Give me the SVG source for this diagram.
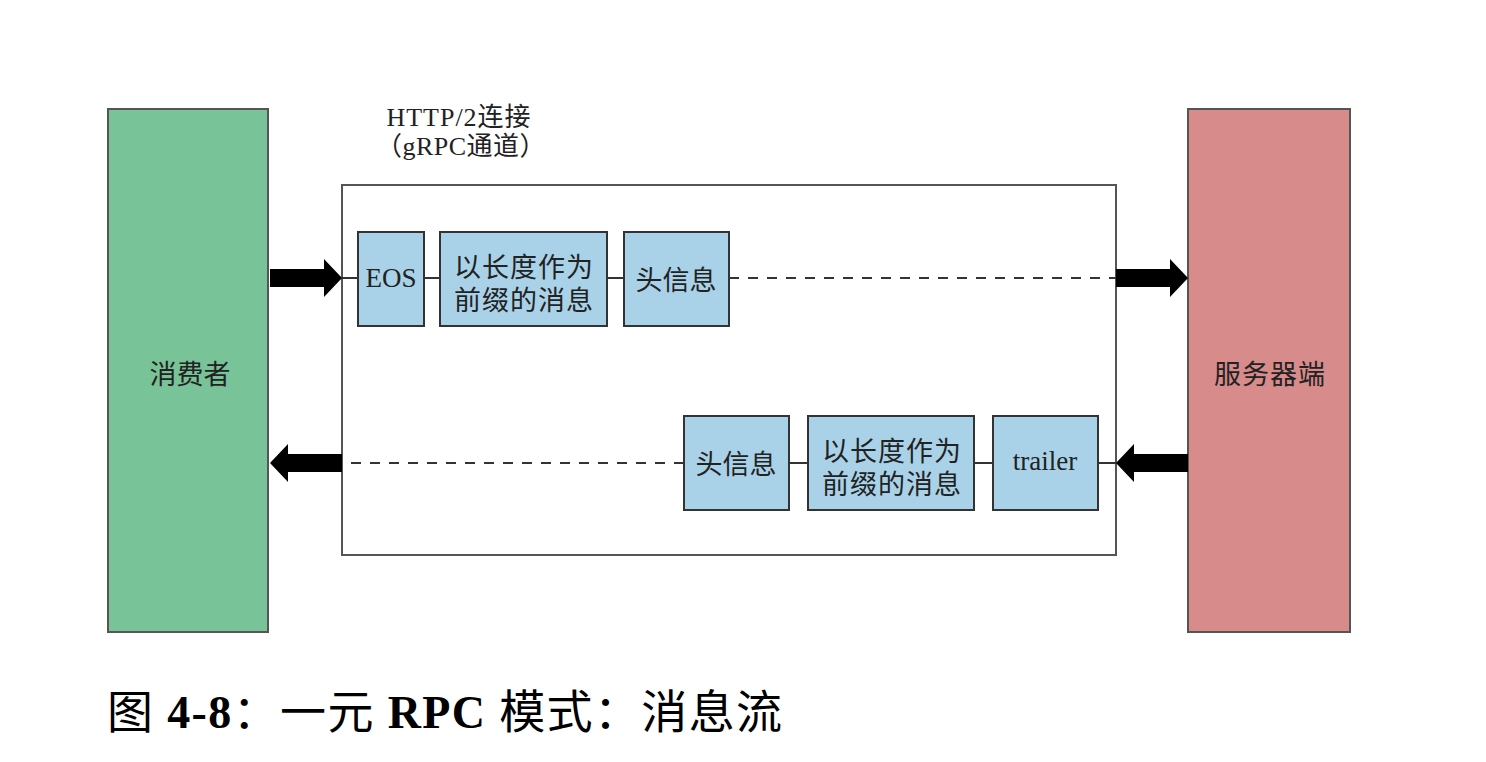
<svg xmlns="http://www.w3.org/2000/svg" width="1486" height="762" viewBox="0 0 1486 762">
<defs>
<style>
.side{stroke:#555;stroke-width:2}
.msg{fill:#a9d2e8;stroke:#333;stroke-width:2}
.cont{fill:#fff;stroke:#555;stroke-width:2}
.t{font-family:"Liberation Serif","Noto Sans CJK SC",serif;fill:#222;text-anchor:middle}
.cjk{font-family:"Liberation Sans","Noto Sans CJK SC",sans-serif;fill:#222;text-anchor:middle}
.ln{stroke:#333;stroke-width:2;fill:none}
.dash{stroke:#333;stroke-width:2;fill:none;stroke-dasharray:10 9}
.arr{fill:#000}
</style>
</defs>
<rect width="1486" height="762" fill="#fff"/>
<g id="consumer">
<rect class="side" x="108" y="109" width="160" height="523" fill="#78c498"/>
<text class="cjk" x="190" y="384" font-size="27">消费者</text>
</g>
<g id="server">
<rect class="side" x="1188" y="109" width="162" height="523" fill="#d78b8b"/>
<text class="cjk" x="1270" y="384" font-size="27" letter-spacing="1">服务器端</text>
</g>
<g id="channel">
<rect class="cont" x="342" y="185" width="774" height="370"/>
<text class="t" x="459" y="126" font-size="26" letter-spacing="1">HTTP/2连接</text>
<text class="t" x="461" y="155" font-size="26" letter-spacing="0.5">（gRPC通道）</text>
</g>
<g id="connectors">
<path class="ln" d="M342 278H358M424 278H440M607 278H624"/>
<path class="dash" d="M729 278H1116"/>
<path class="ln" d="M1098 463H1116M974 463H993M789 463H808"/>
<path class="dash" d="M684 463H342"/>
<polygon class="arr" points="270,269 324,269 324,259 342,278 324,297 324,287 270,287"/>
<polygon class="arr" points="1116,269 1170,269 1170,259 1188,278 1170,297 1170,287 1116,287"/>
<polygon class="arr" points="1188,454 1134,454 1134,444 1116,463 1134,482 1134,472 1188,472"/>
<polygon class="arr" points="342,454 288,454 288,444 270,463 288,482 288,472 342,472"/>
</g>
<g id="eos">
<rect class="msg" x="358" y="232" width="66" height="94"/>
<text class="t" x="391" y="287" font-size="27">EOS</text>
</g>
<g id="msg1">
<rect class="msg" x="440" y="232" width="167" height="94"/>
<text class="cjk" x="524" y="277" font-size="27" letter-spacing="1">以长度作为</text>
<text class="cjk" x="524" y="310" font-size="27" letter-spacing="1">前缀的消息</text>
</g>
<g id="header1">
<rect class="msg" x="624" y="232" width="105" height="94"/>
<text class="cjk" x="676" y="290" font-size="27">头信息</text>
</g>
<g id="header2">
<rect class="msg" x="684" y="416" width="105" height="94"/>
<text class="cjk" x="736" y="474" font-size="27">头信息</text>
</g>
<g id="msg2">
<rect class="msg" x="808" y="416" width="166" height="94"/>
<text class="cjk" x="892" y="461" font-size="27" letter-spacing="1">以长度作为</text>
<text class="cjk" x="892" y="494" font-size="27" letter-spacing="1">前缀的消息</text>
</g>
<g id="trailer">
<rect class="msg" x="993" y="416" width="105" height="94"/>
<text class="t" x="1045" y="470" font-size="27">trailer</text>
</g>
<g id="caption">
<text x="107" y="728" font-size="46" font-family="Liberation Serif,Noto Sans CJK SC,serif" fill="#000" textLength="675" lengthAdjust="spacing">图 <tspan font-weight="bold">4-8</tspan>：一元 <tspan font-weight="bold">RPC</tspan> 模式：消息流</text>
</g>
</svg>
